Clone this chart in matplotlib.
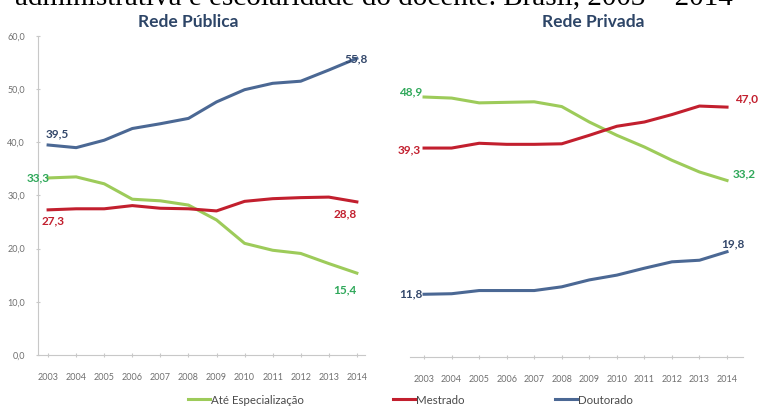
import matplotlib.pyplot as plt
from matplotlib.lines import Line2D

plt.rcParams['font.family'] = ['Lato', 'DejaVu Sans']

years = list(range(2003, 2015))

# Rede Publica
pub_espec = [33.3, 33.5, 32.2, 29.3, 29.0, 28.2, 25.4, 21.0, 19.7, 19.1, 17.2, 15.4]
pub_mestr = [27.3, 27.5, 27.5, 28.1, 27.6, 27.5, 27.1, 28.9, 29.4, 29.6, 29.7, 28.8]
pub_dout = [39.5, 39.0, 40.4, 42.6, 43.5, 44.5, 47.6, 49.9, 51.1, 51.5, 53.6, 55.8]

# Rede Privada
pri_espec = [48.9, 48.7, 47.8, 47.9, 48.0, 47.1, 44.2, 41.7, 39.5, 37.0, 34.8, 33.2]
pri_mestr = [39.3, 39.3, 40.2, 40.0, 40.0, 40.1, 41.7, 43.4, 44.2, 45.6, 47.2, 47.0]
pri_dout = [11.8, 11.9, 12.5, 12.5, 12.5, 13.2, 14.5, 15.4, 16.7, 17.9, 18.2, 19.8]

labels = ['Até Especialização', 'Mestrado', 'Doutorado']
yticks = [0, 10, 20, 30, 40, 50, 60]

c_green = '#9dcb5a'
c_green_txt = '#2fa85a'
c_red = '#c21f2e'
c_blue = '#4b6894'
c_blue_txt = '#33476a'
c_title = '#2d4567'
c_axis = '#c8c8c8'
c_tick = '#707070'

fig = plt.figure(figsize=(7.6, 4.11), dpi=100)
W, H = 760, 411


def px_axes(x0, x1, ytop, ybot):
    return fig.add_axes([x0 / W, (H - ybot) / H, (x1 - x0) / W, (ybot - ytop) / H])


def style(ax, show_y):
    ax.set_ylim(0, 60)
    for s in ['top', 'right']:
        ax.spines[s].set_visible(False)
    ax.spines['bottom'].set_color(c_axis)
    ax.spines['left'].set_color(c_axis)
    ax.set_xticks(years)
    ax.set_xticklabels([str(y) for y in years], fontsize=6.5, color=c_tick)
    ax.tick_params(axis='x', length=2.5, color=c_axis, direction='inout', pad=12)
    if show_y:
        ax.set_yticks(yticks)
        ax.set_yticklabels([('%.1f' % v).replace('.', ',') for v in yticks],
                           fontsize=6.5, color=c_tick)
        ax.tick_params(axis='y', length=2.5, color=c_axis, direction='inout', pad=8)
    else:
        ax.spines['left'].set_visible(False)
        ax.set_yticks([])


def fmt(v):
    return ('%.1f' % v).replace('.', ',')


def lab(ax, x, y, color, dx, dy, ha='left', va='center'):
    ax.annotate(fmt(y), (x, y), xytext=(dx, dy), textcoords='offset points',
                fontsize=8.5, fontweight='bold', color=color, ha=ha, va=va)


# left panel
ax1 = px_axes(38, 365, 36, 355)
ax1.set_xlim(2002.64, 2014.29)
ax1.plot(years, pub_espec, color=c_green, lw=2.2)
ax1.plot(years, pub_mestr, color=c_red, lw=2.2)
ax1.plot(years, pub_dout, color=c_blue, lw=2.2)
style(ax1, True)
lab(ax1, years[0], pub_dout[0], c_blue_txt, -2, 4, va='bottom')
lab(ax1, years[-1], pub_dout[-1], c_blue_txt, -9, -4, va='bottom')
lab(ax1, years[0], pub_espec[0], c_green_txt, 1, 0, ha='right')
lab(ax1, years[-1], pub_espec[-1], c_green_txt, 0, -8, ha='right', va='top')
lab(ax1, years[0], pub_mestr[0], c_red, -5, -4, va='top')
lab(ax1, years[-1], pub_mestr[-1], c_red, 0, -5, ha='right', va='top')
fig.text(188 / W, 1 - 22 / H, 'Rede Pública', ha='center', va='center',
         fontsize=12.5, fontweight='bold', color=c_title)

# right panel
ax2 = px_axes(410, 743, 38, 357)
ax2.set_xlim(2002.49, 2014.58)
ax2.plot(years, pri_espec, color=c_green, lw=2.2)
ax2.plot(years, pri_mestr, color=c_red, lw=2.2)
ax2.plot(years, pri_dout, color=c_blue, lw=2.2)
style(ax2, False)
lab(ax2, years[0], pri_espec[0], c_green_txt, -1, 0, ha='right', va='bottom')
lab(ax2, years[-1], pri_espec[-1], c_green_txt, 4, 1, va='bottom')
lab(ax2, years[0], pri_mestr[0], c_red, -2, -1, ha='right')
lab(ax2, years[-1], pri_mestr[-1], c_red, 6, 2, va='bottom')
lab(ax2, years[0], pri_dout[0], c_blue_txt, -1, 0, ha='right')
lab(ax2, years[-1], pri_dout[-1], c_blue_txt, -4, 2, va='bottom')
fig.text(593 / W, 1 - 22 / H, 'Rede Privada', ha='center', va='center',
         fontsize=12.5, fontweight='bold', color=c_title)

# legend, one entry each so the spacing follows the picture
for name, col, x in zip(labels, [c_green, c_red, c_blue], [188, 393, 555]):
    fig.legend(handles=[Line2D([], [], color=col, lw=2.2)], labels=[name],
               loc='center left', bbox_to_anchor=(x / W, 1 - 400 / H), frameon=False,
               fontsize=8.3, handlelength=1.9, handletextpad=0.1, borderpad=0, borderaxespad=0,
               labelcolor='#4a4a4a')

# caption cut by the screenshot
fig.text(15 / W, 1 - 4 / H, 'administrativa e escolaridade do docente. Brasil, 2003 \u2013 2014',
         family='Liberation Serif', fontsize=21, color='black', va='baseline', ha='left')

fig.savefig('out.png', dpi=100)
